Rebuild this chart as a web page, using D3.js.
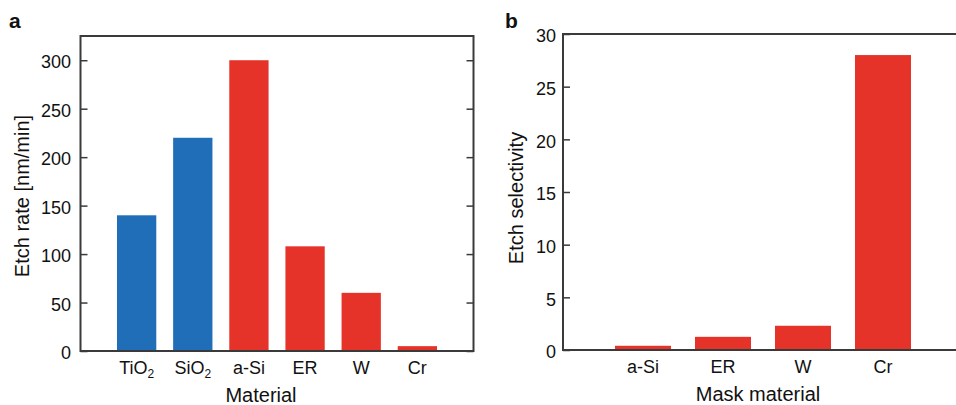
<!DOCTYPE html>
<html>
<head>
<meta charset="utf-8">
<script src="https://cdn.jsdelivr.net/npm/d3@7"></script>
<style>
  html, body { margin: 0; padding: 0; background: #fff; }
  svg { display: block; font-family: "Liberation Sans", Arial, Helvetica, sans-serif; }
</style>
</head>
<body>
<svg id="chart" width="956" height="405"></svg>
<script>
// ---- Data ----
const materialsA = [
  { name: "TiO", sub: "2" },
  { name: "SiO", sub: "2" },
  { name: "a-Si", sub: "" },
  { name: "ER", sub: "" },
  { name: "W", sub: "" },
  { name: "Cr", sub: "" }
];
const etchRates = [140, 220, 300, 108, 60, 5];
const barKindsA = ["film", "film", "mask", "mask", "mask", "mask"];
const yTicksA = [0, 50, 100, 150, 200, 250, 300];

const maskMaterials = ["a-Si", "ER", "W", "Cr"];
const selectivity = [0.4, 1.25, 2.3, 28];
const yTicksB = [0, 5, 10, 15, 20, 25, 30];

const colors = { film: "#1f6eb7", mask: "#e5332a" };
const frameColor = "#3a3a3a";
const textColor = "#111";

const svg = d3.select("#chart");

function drawPanel(opts) {
  const { left, right, top, bottom, yMax, ticks, n, values, fill,
          labelFn, yTitle, xTitle, xTitleX, yTitleX, yTitleY, letter, letterX,
          tickLabelGap } = opts;
  const g = svg.append("g");
  const x = d3.scaleLinear().domain([0, n + 1]).range([left, right]);
  const y = d3.scaleLinear().domain([0, yMax]).range([bottom, top]);
  const step = x(1) - x(0);
  const bw = step * 0.7;

  // bars
  g.selectAll("rect.bar").data(values).enter().append("rect")
    .attr("class", "bar")
    .attr("x", (d, i) => x(i + 1) - bw / 2)
    .attr("width", bw)
    .attr("y", d => y(d))
    .attr("height", d => y(0) - y(d))
    .attr("fill", (d, i) => fill(i));

  // left axis ticks (inward) and labels
  const yAxisL = d3.axisLeft(y).tickValues(ticks).tickSizeInner(-7).tickSizeOuter(0).tickPadding(tickLabelGap);
  const ga = g.append("g").attr("transform", `translate(${left},0)`).call(yAxisL);
  ga.select(".domain").remove();
  ga.selectAll(".tick line").attr("stroke", frameColor).attr("stroke-width", 1.5);
  ga.selectAll(".tick text").attr("font-size", 18).attr("fill", textColor)
    .attr("font-family", "Liberation Sans, Arial, sans-serif").attr("dy", "0.62em").attr("y", -3.5);

  // right axis ticks (inward)
  const yAxisR = d3.axisRight(y).tickValues(ticks).tickSizeInner(-7).tickSizeOuter(0).tickFormat("");
  const gr = g.append("g").attr("transform", `translate(${right},0)`).call(yAxisR);
  gr.select(".domain").remove();
  gr.selectAll(".tick line").attr("stroke", frameColor).attr("stroke-width", 1.5);

  // frame
  g.append("rect").attr("x", left).attr("y", top)
    .attr("width", right - left).attr("height", bottom - top)
    .attr("fill", "none").attr("stroke", frameColor).attr("stroke-width", 2);

  // x labels
  const xl = g.selectAll("text.xl").data(d3.range(n)).enter().append("text")
    .attr("class", "xl")
    .attr("x", i => x(i + 1))
    .attr("y", bottom + 22.5)
    .attr("text-anchor", "middle")
    .attr("font-size", 18).attr("fill", textColor);
  xl.each(function(i) {
    const lab = labelFn(i);
    const t = d3.select(this);
    t.append("tspan").text(lab.name);
    if (lab.sub) t.append("tspan").attr("font-size", 12).attr("dy", 4).text(lab.sub);
  });

  // axis titles
  g.append("text").attr("x", xTitleX).attr("y", bottom + 50.5)
    .attr("text-anchor", "middle").attr("font-size", 20).attr("fill", textColor).text(xTitle);
  g.append("text").attr("transform", `translate(${yTitleX},${yTitleY}) rotate(-90)`)
    .attr("text-anchor", "middle").attr("font-size", 20).attr("fill", textColor).text(yTitle);

  // panel letter
  svg.append("text").attr("x", letterX).attr("y", 28)
    .attr("font-size", 21).attr("font-weight", "bold").attr("fill", "#111").text(letter);
}

drawPanel({
  left: 80.5, right: 473.5, top: 36, bottom: 351, yMax: 325, ticks: yTicksA,
  n: materialsA.length, values: etchRates, fill: i => colors[barKindsA[i]],
  labelFn: i => materialsA[i], yTitle: "Etch rate [nm/min]", xTitle: "Material",
  xTitleX: 261, yTitleX: 28.5, yTitleY: 196, letter: "a", letterX: 9, tickLabelGap: 9.5
});

drawPanel({
  left: 563, right: 963, top: 34, bottom: 350, yMax: 30, ticks: yTicksB,
  n: maskMaterials.length, values: selectivity, fill: () => colors.mask,
  labelFn: i => ({ name: maskMaterials[i], sub: "" }), yTitle: "Etch selectivity", xTitle: "Mask material",
  xTitleX: 758, yTitleX: 523, yTitleY: 198, letter: "b", letterX: 505, tickLabelGap: 7
});
</script>
</body>
</html>
